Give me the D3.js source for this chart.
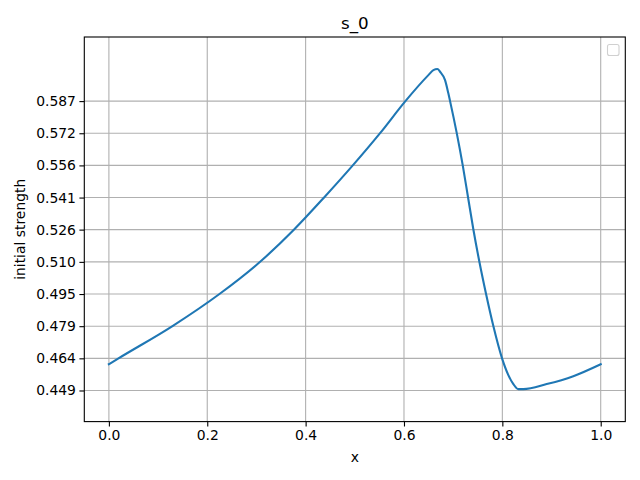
<!DOCTYPE html>
<html>
<head>
<meta charset="utf-8">
<script src="https://cdn.jsdelivr.net/npm/d3@7"></script>
<style>
body { margin: 0; background: #fff; }
svg text { font-family: "DejaVu Sans", sans-serif; fill: #000; }
</style>
</head>
<body>
<div id="chart"></div>
<script>
// data
var xs = [0, 0.0195, 0.1293, 0.2248, 0.3075, 0.3766, 0.4376, 0.4959, 0.5514, 0.6029, 0.6496, 0.6598, 0.6679,
          0.6734, 0.6835, 0.6902, 0.6937, 0.7073, 0.7195, 0.7303, 0.7411, 0.7533, 0.7669, 0.7817,
          0.7994, 0.8122, 0.8224, 0.8325, 0.8427, 0.8902, 0.9443, 1.0];
var strength = [0.4613, 0.4641, 0.4795, 0.4948, 0.5102, 0.5256, 0.5409, 0.5562, 0.5716, 0.5869, 0.5993, 0.6017, 0.6022,
                0.6009, 0.5969, 0.5906, 0.5869, 0.5716, 0.5562, 0.5409, 0.5256, 0.5102, 0.4948, 0.4795,
                0.4641, 0.4561, 0.4518, 0.4494, 0.4494, 0.4518, 0.4556, 0.4613];
var xTicks = [0, 0.2, 0.4, 0.6, 0.8, 1.0];
var yTicks = [0.44875, 0.4641, 0.47945, 0.4948, 0.51015, 0.52555, 0.54085, 0.5562, 0.57155, 0.5869];

var W = 640, H = 480;
var plotL = 84.3, plotR = 625.3, plotT = 37, plotB = 421.6;

var svg = d3.select('#chart').append('svg').attr('width', W).attr('height', H);

var x = d3.scaleLinear().domain([-0.05, 1.05]).range([plotL, plotR]);
var y = d3.scaleLinear().domain([0.4339, 0.6175]).range([plotB, plotT]);

// grid
svg.append('g').selectAll('line').data(xTicks).enter().append('line')
    .attr('x1', function(d) { return x(d); }).attr('x2', function(d) { return x(d); })
    .attr('y1', plotT).attr('y2', plotB)
    .attr('stroke', '#b0b0b0').attr('stroke-width', 1.1);
svg.append('g').selectAll('line').data(yTicks).enter().append('line')
    .attr('y1', function(d) { return y(d); }).attr('y2', function(d) { return y(d); })
    .attr('x1', plotL).attr('x2', plotR)
    .attr('stroke', '#b0b0b0').attr('stroke-width', 1.1);

// line
var line = d3.line()
    .x(function(d, i) { return x(xs[i]); })
    .y(function(d) { return y(d); })
    .curve(d3.curveMonotoneX);
svg.append('path').datum(strength)
    .attr('d', line)
    .attr('fill', 'none')
    .attr('stroke', '#1f77b4')
    .attr('stroke-width', 2.1)
    .attr('stroke-linejoin', 'round')
    .attr('stroke-linecap', 'square');

// axes
var xAxis = d3.axisBottom(x).tickValues(xTicks).tickFormat(d3.format('.1f')).tickSizeOuter(0).tickSize(4.9).tickPadding(3.5);
var yAxis = d3.axisLeft(y).tickValues(yTicks).tickFormat(d3.format('.3f')).tickSizeOuter(0).tickSize(4.9).tickPadding(3.5);

var gx = svg.append('g').attr('transform', 'translate(0,' + plotB + ')').call(xAxis);
var gy = svg.append('g').attr('transform', 'translate(' + plotL + ',0)').call(yAxis);
[gx, gy].forEach(function(g) {
    g.attr('font-size', null).attr('font-family', null);
    g.select('.domain').remove();
    g.selectAll('.tick line').attr('stroke', '#000').attr('stroke-width', 1.1);
    g.selectAll('.tick text').style('font-size', '13.9px').attr('fill', '#000');
});

// frame
svg.append('rect')
    .attr('x', plotL).attr('y', plotT)
    .attr('width', plotR - plotL).attr('height', plotB - plotT)
    .attr('fill', 'none').attr('stroke', '#000').attr('stroke-width', 1.1);

// empty legend
svg.append('rect')
    .attr('x', 607.5).attr('y', 44.5).attr('width', 11.5).attr('height', 11)
    .attr('rx', 2).attr('fill', '#fff').attr('fill-opacity', 0.8)
    .attr('stroke', '#d0d0d0').attr('stroke-width', 1.1);

// labels
svg.append('text')
    .attr('x', (plotL + plotR) / 2).attr('y', 28.7)
    .attr('text-anchor', 'middle').style('font-size', '16.7px')
    .text('s_0');
svg.append('text')
    .attr('x', (plotL + plotR) / 2).attr('y', 462)
    .attr('text-anchor', 'middle').style('font-size', '13.9px')
    .text('x');
svg.append('text')
    .attr('transform', 'translate(25,' + ((plotT + plotB) / 2) + ') rotate(-90)')
    .attr('text-anchor', 'middle').style('font-size', '13.9px')
    .text('initial strength');
</script>
</body>
</html>
